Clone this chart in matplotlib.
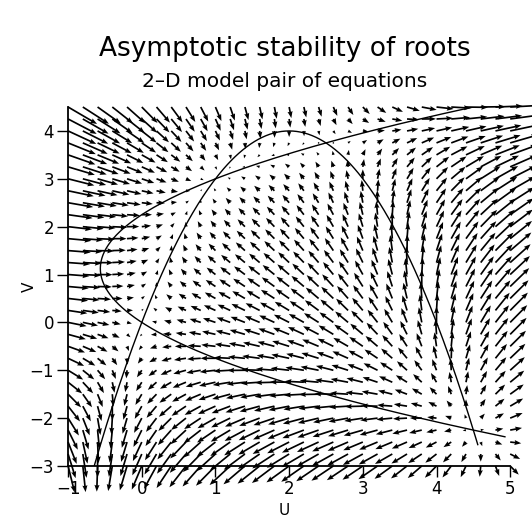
import numpy as np
import matplotlib
matplotlib.use("Agg")
import matplotlib.pyplot as plt

# plot window
U_LIM = [-1.0, 5.0]
V_LIM = [-3.0, 4.5]
N_GRID = 31

# du/dt = a0*u^2 + a1*u + a2*v
DU_COEF = [1.0, -4.0, 1.0]
# dv/dt = b0*u + b1*v + b2*v^2
DV_COEF = [1.0125, 1.0125, -0.45]

# parameter spans for the two zero curves
PARA_U = [-0.65, 4.56]
SIDE_V = [-2.39, 4.5]

U_TICKS = [-1, 0, 1, 2, 3, 4, 5]
V_TICKS = [-3, -2, -1, 0, 1, 2, 3, 4]

# arrow length grows as |F|**LEN_POWER
LEN_POWER = 0.75


def du(u, v):
    a0, a1, a2 = DU_COEF
    return a0 * u**2 + a1 * u + a2 * v


def dv(u, v):
    b0, b1, b2 = DV_COEF
    return b0 * u + b1 * v + b2 * v**2


fig = plt.figure(figsize=(5.32, 5.21), dpi=100)
ax = fig.add_axes([0.128, 0.1056, 0.831, 0.689])

uu, vv = np.meshgrid(np.linspace(U_LIM[0], U_LIM[1], N_GRID),
                     np.linspace(V_LIM[0], V_LIM[1], N_GRID))
fu, fv = du(uu, vv), dv(uu, vv)
mag = np.hypot(fu, fv)
shrink = np.where(mag > 0, mag ** (LEN_POWER - 1.0), 0.0)
ax.quiver(uu, vv, fu * shrink, fv * shrink, color="black",
          units="dots", width=1.7, headwidth=3.0, headlength=4.0,
          headaxislength=3.6, scale_units="dots", scale=0.18,
          pivot="tail", clip_on=False, zorder=3)

# du = 0 : v as a function of u
u_line = np.linspace(PARA_U[0], PARA_U[1], 300)
a0, a1, a2 = DU_COEF
ax.plot(u_line, -(a0 * u_line**2 + a1 * u_line) / a2, color="black", lw=1.0, zorder=4)

# dv = 0 : u as a function of v
v_line = np.linspace(SIDE_V[0], SIDE_V[1], 300)
b0, b1, b2 = DV_COEF
ax.plot(-(b1 * v_line + b2 * v_line**2) / b0, v_line, color="black", lw=1.0, zorder=4)

ax.set_xlim(*U_LIM)
ax.set_ylim(*V_LIM)
ax.set_xticks(U_TICKS)
ax.set_yticks(V_TICKS)
ax.spines["top"].set_visible(False)
ax.spines["right"].set_visible(False)
ax.spines["bottom"].set_bounds(U_LIM[0], U_LIM[1])
for s in ("left", "bottom"):
    ax.spines[s].set_linewidth(1.3)
ax.tick_params(direction="out", length=8, width=1.0, labelsize=12, pad=2)
ax.set_xlabel("U", fontsize=11)
ax.set_ylabel("V", fontsize=11)
ax.xaxis.set_label_coords(0.49, -0.104)
ax.yaxis.set_label_coords(-0.07, 0.5)

fig.text(0.535, 0.905, "Asymptotic stability of roots", ha="center", va="center", fontsize=19)
fig.text(0.535, 0.843, "2\u2013D model pair of equations", ha="center", va="center", fontsize=14.5)

fig.savefig("out.png", dpi=100)
